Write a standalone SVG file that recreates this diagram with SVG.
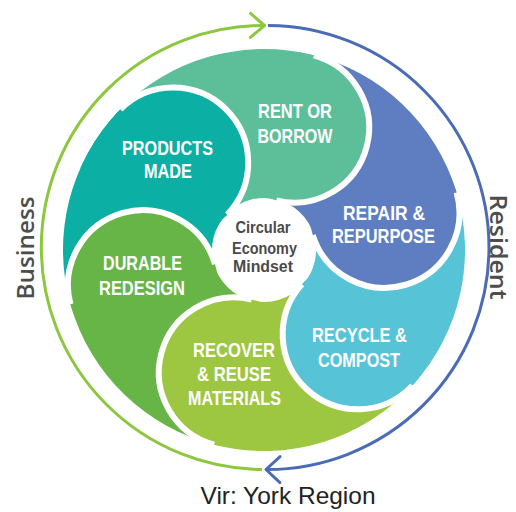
<svg xmlns="http://www.w3.org/2000/svg" xmlns:xlink="http://www.w3.org/1999/xlink" width="516" height="512" viewBox="0 0 516 512">
<style>
.pt{fill:#fff;font-family:"Liberation Sans Narrow","Liberation Sans",Arial,sans-serif;font-weight:700;font-size:21px;text-anchor:middle}
.ct{fill:#4a4a4a;font-family:"Liberation Sans Narrow","Liberation Sans",Arial,sans-serif;font-weight:700;font-size:17px;text-anchor:middle}
.edge{fill:none;stroke:#fff;stroke-width:6}
.lbl{fill:#4d4d4d;font-family:"Open Sans","Liberation Sans",sans-serif;font-weight:600;font-size:24px;text-anchor:middle}
.ring{fill:none;stroke-width:3}
</style>
<defs>
<marker id="ag" viewBox="-18 -16 22 32" markerWidth="22" markerHeight="32" refX="0" refY="0" orient="auto" markerUnits="userSpaceOnUse">
<path d="M-14,-12 L0,0 L-14,12" fill="none" stroke="#8DC63F" stroke-width="3" stroke-linecap="round" stroke-linejoin="round"/>
</marker>
<marker id="ab" viewBox="-18 -16 22 32" markerWidth="22" markerHeight="32" refX="0" refY="0" orient="auto" markerUnits="userSpaceOnUse">
<path d="M-14,-13 L0,0 L-14,13" fill="none" stroke="#4A6BB5" stroke-width="3" stroke-linecap="round" stroke-linejoin="round"/>
</marker>
<clipPath id="wedge"><path d="M264,250 L44.75,152.38 A240,240 0 0 1 346.08,24.47 Z"/></clipPath>
</defs>
<rect width="516" height="512" fill="#fff"/>

<g id="connectors">
<path class="ring" stroke="#8DC63F" d="M262,469.5 A222,222 0 0 1 264.5,25.5" marker-end="url(#ag)"/>
<path class="ring" stroke="#4A6BB5" d="M268,25.5 A222,222 0 0 1 266,469.5" marker-end="url(#ab)"/>
</g>

<g id="products">
<path fill="#0BAFA4" d="M214.01,264.33 L70.79,305.40 A201,201 0 0 1 119.41,110.37 L226.59,213.88 A52,52 0 0 0 214.01,264.33 Z"/>
<circle cx="173.36" cy="162.47" r="75" fill="#0BAFA4"/>
<path class="edge" d="M120.33,109.44 A75,75 0 0 1 227.31,214.57"/>
<text class="pt" x="167.5" y="155" textLength="91" lengthAdjust="spacingAndGlyphs">PRODUCTS</text>
<text class="pt" x="168" y="178" textLength="48" lengthAdjust="spacingAndGlyphs">MADE</text>
</g>

<g id="durable">
<path fill="#67B447" d="M251.42,300.46 L215.37,445.03 A201,201 0 0 1 70.79,305.40 L214.01,264.33 A52,52 0 0 0 251.42,300.46 Z"/>
<circle cx="142.88" cy="284.73" r="75" fill="#67B447"/>
<path class="edge" d="M70.44,304.14 A75,75 0 0 1 214.97,264.06"/>
<text class="pt" x="142.5" y="270" textLength="79" lengthAdjust="spacingAndGlyphs">DURABLE</text>
<text class="pt" x="142" y="294.5" textLength="86" lengthAdjust="spacingAndGlyphs">REDESIGN</text>
</g>

<g id="recover">
<path fill="#9DC641" d="M302.64,284.79 L413.37,384.50 A201,201 0 0 1 215.37,445.03 L251.42,300.46 A52,52 0 0 0 302.64,284.79 Z"/>
<circle cx="233.52" cy="372.26" r="75" fill="#9DC641"/>
<path class="edge" d="M214.11,444.70 A75,75 0 0 1 251.66,299.49"/>
<text class="pt" x="234" y="357" textLength="82" lengthAdjust="spacingAndGlyphs">RECOVER</text>
<text class="pt" x="234" y="381" textLength="74" lengthAdjust="spacingAndGlyphs">&amp; REUSE</text>
<text class="pt" x="234.5" y="405" textLength="93" lengthAdjust="spacingAndGlyphs">MATERIALS</text>
</g>

<g id="recycle">
<path fill="#56C3D7" d="M313.73,234.80 L456.22,191.23 A201,201 0 0 1 413.37,384.50 L302.64,284.79 A52,52 0 0 0 313.73,234.80 Z"/>
<circle cx="357.64" cy="334.31" r="75" fill="#56C3D7"/>
<path class="edge" d="M412.49,385.46 A75,75 0 0 1 301.90,284.13"/>
<text class="pt" x="359.5" y="342" textLength="95" lengthAdjust="spacingAndGlyphs">RECYCLE &amp;</text>
<text class="pt" x="359" y="366.5" textLength="82" lengthAdjust="spacingAndGlyphs">COMPOST</text>
</g>

<g id="repair">
<path fill="#5F7EC1" d="M276.58,199.54 L312.63,54.97 A201,201 0 0 1 456.22,191.23 L313.73,234.80 A52,52 0 0 0 276.58,199.54 Z"/>
<circle cx="384.49" cy="213.16" r="75" fill="#5F7EC1"/>
<path class="edge" d="M456.58,192.49 A75,75 0 0 1 312.77,235.09"/>
<text class="pt" x="384" y="220" textLength="82" lengthAdjust="spacingAndGlyphs">REPAIR &amp;</text>
<text class="pt" x="383.5" y="243" textLength="103" lengthAdjust="spacingAndGlyphs">REPURPOSE</text>
</g>

<g id="rent">
<path fill="#5CBF9A" d="M226.59,213.88 L119.41,110.37 A201,201 0 0 1 312.63,54.97 L276.58,199.54 A52,52 0 0 0 226.59,213.88 Z"/>
<circle cx="294.48" cy="127.74" r="75" fill="#5CBF9A"/>
<path class="edge" d="M313.89,55.30 A75,75 0 0 1 276.34,200.51"/>
<text class="pt" x="295" y="118" textLength="74" lengthAdjust="spacingAndGlyphs">RENT OR</text>
<text class="pt" x="295" y="143" textLength="75" lengthAdjust="spacingAndGlyphs">BORROW</text>
</g>

<use xlink:href="#products" href="#products" clip-path="url(#wedge)"/>

<g id="center">
<text class="ct" x="263" y="233" textLength="55" lengthAdjust="spacingAndGlyphs">Circular</text>
<text class="ct" x="264.5" y="254" textLength="65" lengthAdjust="spacingAndGlyphs">Economy</text>
<text class="ct" x="263" y="272" textLength="60" lengthAdjust="spacingAndGlyphs">Mindset</text>
</g>

<g id="labels">
<text class="lbl" transform="translate(34,248) rotate(-90)" textLength="103" lengthAdjust="spacingAndGlyphs">Business</text>
<text class="lbl" transform="translate(490,247) rotate(90)" textLength="105" lengthAdjust="spacingAndGlyphs">Resident</text>
<text x="288" y="504" font-family="'Liberation Sans',Arial,sans-serif" font-size="24" fill="#222" text-anchor="middle" textLength="175" lengthAdjust="spacingAndGlyphs">Vir: York Region</text>
</g>
</svg>
